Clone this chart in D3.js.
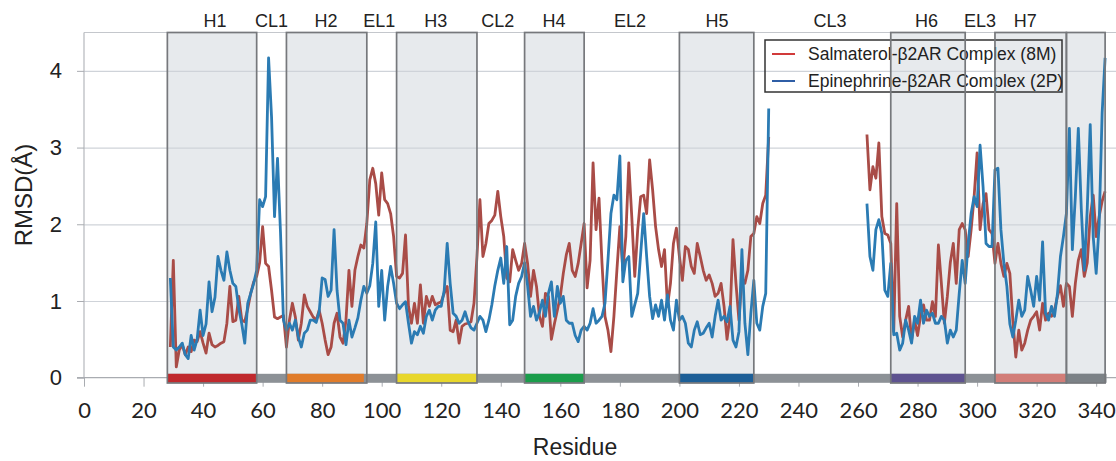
<!DOCTYPE html>
<html><head><meta charset="utf-8">
<script src="https://cdn.jsdelivr.net/npm/d3@7"></script>
<style>body{margin:0;background:#fff}svg{display:block}</style>
</head><body><svg id="c" width="1116" height="461"></svg>
<script>
// ---------- data ----------
const xTicks = [0,20,40,60,80,100,120,140,160,180,200,220,240,260,280,300,320,340];
const yTicks = [0,1,2,3,4];
const segmentStarts = [29, 263];

const salmaterolA = [0.40,1.53,0.14,0.36,0.43,0.30,0.40,0.34,0.49,0.47,0.60,0.45,0.32,0.58,0.43,0.40,0.42,0.45,0.47,0.71,
1.19,0.73,0.75,1.06,0.75,0.73,0.90,1.10,1.25,1.32,1.50,1.97,1.49,1.45,1.14,0.79,0.77,0.79,0.81,0.40,
0.75,0.97,0.79,0.49,0.71,1.08,0.93,0.86,0.79,0.75,0.88,0.71,0.49,0.30,0.40,0.71,0.84,0.53,0.45,0.75,
1.40,0.93,1.40,1.58,1.73,1.69,2.01,2.58,2.73,2.53,2.12,2.67,2.32,2.27,2.14,1.84,1.32,1.30,1.36,1.86,
0.93,0.71,0.97,0.71,1.21,0.71,1.06,0.93,1.06,0.95,0.97,0.99,1.10,1.19,0.62,0.60,0.75,0.45,0.67,0.70,
0.71,0.73,0.97,1.58,2.32,1.58,1.75,2.01,2.05,2.12,2.43,2.10,1.84,1.30,1.25,1.67,1.53,1.40,1.49,1.75,
1.49,1.06,1.40,1.19,0.80,0.67,1.10,1.06,0.50,0.70,0.88,1.06,1.36,1.60,1.75,1.40,1.32,1.49,1.75,2.01,
1.17,1.53,2.80,1.93,2.34,1.49,0.80,0.62,0.34,0.80,1.40,1.97,1.40,1.84,2.80,2.10,1.32,1.93,2.36,2.38,
2.14,2.84,2.45,1.97,1.67,1.45,1.67,0.93,1.23,1.75,1.95,1.58,1.27,1.71,1.67,1.45,1.36,1.75,1.58,1.40,
1.27,1.34,1.23,1.06,1.10,1.23,0.93,0.50,0.80,1.80,1.23,0.75,1.30,1.23,1.40,1.84,1.88,2.10,2.01,2.27,
2.38,3.14];
const salmaterolB = [3.17,2.45,2.75,2.60,3.06,2.10,1.88,1.86,1.75,0.60,2.27,0.80,0.53,0.75,0.93,0.49,0.75,0.55,0.80,0.95,
0.75,0.75,0.99,0.80,1.73,1.23,0.71,1.06,1.50,1.75,1.23,1.93,2.01,1.93,1.58,1.93,2.36,2.93,1.93,2.27,
2.40,1.93,1.88,1.49,1.75,1.49,1.32,1.49,1.36,0.75,0.27,0.62,0.36,0.45,0.62,0.75,0.80,0.86,0.62,0.97,
0.75,0.84,0.80,0.88,1.06,1.20,0.93,1.23,1.19,0.80,1.23,1.53,1.67,1.32,1.50,2.10,2.38,1.84,2.10,2.30,
2.43];
const epinephrineA = [1.30,0.40,0.36,0.40,0.45,0.30,0.25,0.55,0.36,0.50,0.88,0.55,0.70,1.25,0.86,1.05,1.58,1.40,1.27,1.64,
1.40,1.23,1.19,0.90,0.70,0.45,0.97,1.10,1.23,1.40,2.32,2.23,2.36,4.17,3.40,2.10,2.86,1.90,0.75,0.62,
0.71,0.62,0.75,0.53,0.40,0.58,0.62,0.75,0.75,0.72,0.86,1.30,1.28,1.06,1.14,1.93,1.14,0.75,0.71,0.43,
0.75,0.53,0.65,0.78,1.01,1.19,1.10,1.20,1.49,2.03,0.93,1.40,0.75,1.19,1.45,1.23,0.97,0.90,0.95,0.99,
0.71,0.45,0.60,0.56,0.67,0.58,0.80,0.88,0.75,0.88,0.93,0.93,1.14,1.75,1.23,0.84,0.80,0.71,0.75,0.86,
0.73,0.65,0.62,0.71,0.80,0.75,0.60,0.75,0.95,1.20,1.40,1.56,1.23,1.71,0.69,0.75,1.06,1.23,1.32,1.50,
1.20,0.80,0.93,0.75,0.85,1.01,0.80,1.10,1.25,0.80,1.19,0.97,1.06,0.75,0.71,0.71,0.55,0.47,0.62,0.67,
0.62,0.71,0.90,0.71,0.75,0.80,0.97,1.53,2.14,2.38,2.32,2.89,1.25,1.53,1.58,0.80,0.95,1.10,1.62,2.14,
1.58,1.06,0.77,0.95,0.80,1.01,0.75,1.08,0.75,0.62,1.01,0.75,0.80,0.71,0.45,0.40,0.62,0.73,0.56,0.58,
0.65,0.71,0.53,0.80,1.01,0.75,0.80,0.73,0.93,0.49,0.40,0.60,1.67,0.71,0.30,0.84,1.27,0.71,0.62,0.93,
1.10,3.51];
const epinephrineB = [2.27,1.58,1.40,1.93,2.06,1.88,1.14,1.06,1.49,0.56,0.58,0.36,0.45,0.75,0.62,0.45,0.80,0.71,1.01,0.71,
0.88,0.80,0.84,0.71,0.71,0.80,0.75,0.45,0.62,0.53,0.62,1.10,1.53,1.23,1.75,2.14,2.36,2.23,3.03,2.49,
1.75,1.71,1.71,2.71,2.73,1.93,1.49,1.19,0.70,0.53,0.75,1.01,0.80,0.88,1.32,1.14,0.93,1.32,1.01,1.77,
0.84,0.75,0.93,0.80,1.10,1.58,1.84,2.14,3.25,1.67,2.36,3.25,2.20,1.40,2.20,3.30,1.84,1.36,2.00,3.45,
4.17];

const helixStart = [28,68,105,148,200,271,306,330];
const helixEnd   = [58,95,132,168,225,296,330,343];
const helixColors = ["#c0292d","#e07c2b","#e8d72c","#1a9d4b","#1d5f97","#5e5390","#d27d78","#7c8287"];
const bandStart = 28, bandEnd = 343.5;

const regionLabels  = ["H1","CL1","H2","EL1","H3","CL2","H4","EL2","H5","CL3","H6","EL3","H7"];
const regionCenters = [44,63,81.3,99.2,118.2,139,157.9,183.4,212.6,250.6,283,301,316.2];

const seriesNames = ["Salmaterol-\u03B22AR Complex (8M)","Epinephrine-\u03B22AR Complex (2P)"];
const seriesColors = ["#a94c47","#2b7bb3"];
const legendColors = ["#d13a3a","#2f5ea6"];

// ---------- layout ----------
const svg = d3.select("#c");
const W = 1116;
const x = d3.scaleLinear().domain([0,345]).range([84, 84 + 345*2.977]);
const y = d3.scaleLinear().domain([0,4.5]).range([377.7, 32.5]);

// box fills
svg.append("g").selectAll("rect").data(helixStart).join("rect")
  .attr("x", d=>x(d)).attr("y", y(4.5))
  .attr("width", (d,i)=>x(helixEnd[i])-x(d))
  .attr("height", 383 - y(4.5))
  .attr("fill", "#e7eaed");

// grid lines
const grid = svg.append("g").attr("transform","translate(84,0)")
  .call(d3.axisLeft(y).tickValues(yTicks.slice(1)).tickSize(-(W-84)).tickFormat(""));
grid.select(".domain").remove();
grid.selectAll("line").attr("stroke","#cfd3d9").attr("stroke-width",1.2);

// frame top and left
svg.append("line").attr("x1",84).attr("x2",W).attr("y1",y(4.5)).attr("y2",y(4.5)).attr("stroke","#c4c7cc").attr("stroke-width",1.2);
svg.append("line").attr("x1",84).attr("x2",84).attr("y1",y(4.5)).attr("y2",y(0)).attr("stroke","#b5b8bd").attr("stroke-width",1.2);

// y axis ticks/labels
const yAx = svg.append("g").attr("transform","translate(84,0)")
  .call(d3.axisLeft(y).tickValues(yTicks).tickSize(7).tickPadding(15).tickFormat(d3.format("d")));
yAx.select(".domain").remove();
yAx.selectAll("line").attr("stroke","#a9acb1");
yAx.selectAll("text").attr("font-family","'Liberation Sans', Arial, sans-serif").attr("font-size",22).attr("fill","#222");

// zero line
svg.append("line").attr("x1",77).attr("x2",W).attr("y1",y(0)).attr("y2",y(0)).attr("stroke","#a9acb1").attr("stroke-width",1.2);

// x axis
const xAx = svg.append("g").attr("transform",`translate(0,${y(0)})`)
  .call(d3.axisBottom(x).tickValues(xTicks).tickSize(9).tickPadding(16).tickFormat(d3.format("d")));
xAx.select(".domain").remove();
xAx.selectAll("line").attr("stroke","#a9acb1");
xAx.selectAll("text").attr("font-family","Lato, 'Open Sans', sans-serif").attr("font-size",22).attr("fill","#222");

// band
svg.append("rect").attr("x",x(bandStart)).attr("y",373.8).attr("width",x(bandEnd)-x(bandStart)).attr("height",9).attr("fill","#8c9196");
svg.append("g").selectAll("rect").data(helixStart).join("rect")
  .attr("x",d=>x(d)).attr("y",373.8)
  .attr("width",(d,i)=>x(i===1?94:helixEnd[i])-x(d)).attr("height",9)
  .attr("fill",(d,i)=>helixColors[i]);

// legend
const lg = svg.append("g");
lg.append("rect").attr("x",765).attr("y",40).attr("width",297).attr("height",52)
  .attr("fill","none").attr("stroke","#333").attr("stroke-width",1.5);
seriesNames.forEach((n,i)=>{
  const yy = 54 + i*27;
  lg.append("line").attr("x1",772).attr("x2",795).attr("y1",yy).attr("y2",yy).attr("stroke",legendColors[i]).attr("stroke-width",2);
  lg.append("text").attr("x",808).attr("y",yy).attr("dy","0.35em").text(n)
    .attr("font-family","'Liberation Sans', Arial, sans-serif").attr("font-size",17.5).attr("fill","#222");
});

// lines
const line = d3.line().defined(d=>d[1]!=null).x(d=>x(d[0])).y(d=>y(d[1]));
function segs(a,b){ return [a.map((v,i)=>[segmentStarts[0]+i,v]), b.map((v,i)=>[segmentStarts[1]+i,v])]; }
const series = [segs(salmaterolA,salmaterolB), segs(epinephrineA,epinephrineB)];
series.forEach((s,k)=>{
  svg.append("g").selectAll("path").data(s).join("path")
    .attr("d",line).attr("fill","none").attr("stroke",seriesColors[k])
    .attr("stroke-width",2.8).attr("stroke-linejoin","round");
});

// box strokes
svg.append("g").selectAll("rect").data(helixStart).join("rect")
  .attr("x",d=>x(d)).attr("y",y(4.5))
  .attr("width",(d,i)=>x(helixEnd[i])-x(d)).attr("height",383-y(4.5))
  .attr("fill","none").attr("stroke","#76787c").attr("stroke-width",1.7);

// region labels
svg.append("g").selectAll("text").data(regionLabels).join("text")
  .attr("x",(d,i)=>x(regionCenters[i])).attr("y",26.5).attr("text-anchor","middle").text(d=>d)
  .attr("font-family","'Liberation Sans', Arial, sans-serif").attr("font-size",18).attr("fill","#222");

// axis titles
svg.append("text").attr("x",575).attr("y",455).attr("text-anchor","middle").text("Residue")
  .attr("font-family","'Liberation Sans', Arial, sans-serif").attr("font-size",23).attr("fill","#222");
svg.append("text").attr("transform","translate(32,195) rotate(-90)").attr("text-anchor","middle").text("RMSD(\u00C5)")
  .attr("font-family","'Liberation Sans', Arial, sans-serif").attr("font-size",24).attr("fill","#222");
</script></body></html>
